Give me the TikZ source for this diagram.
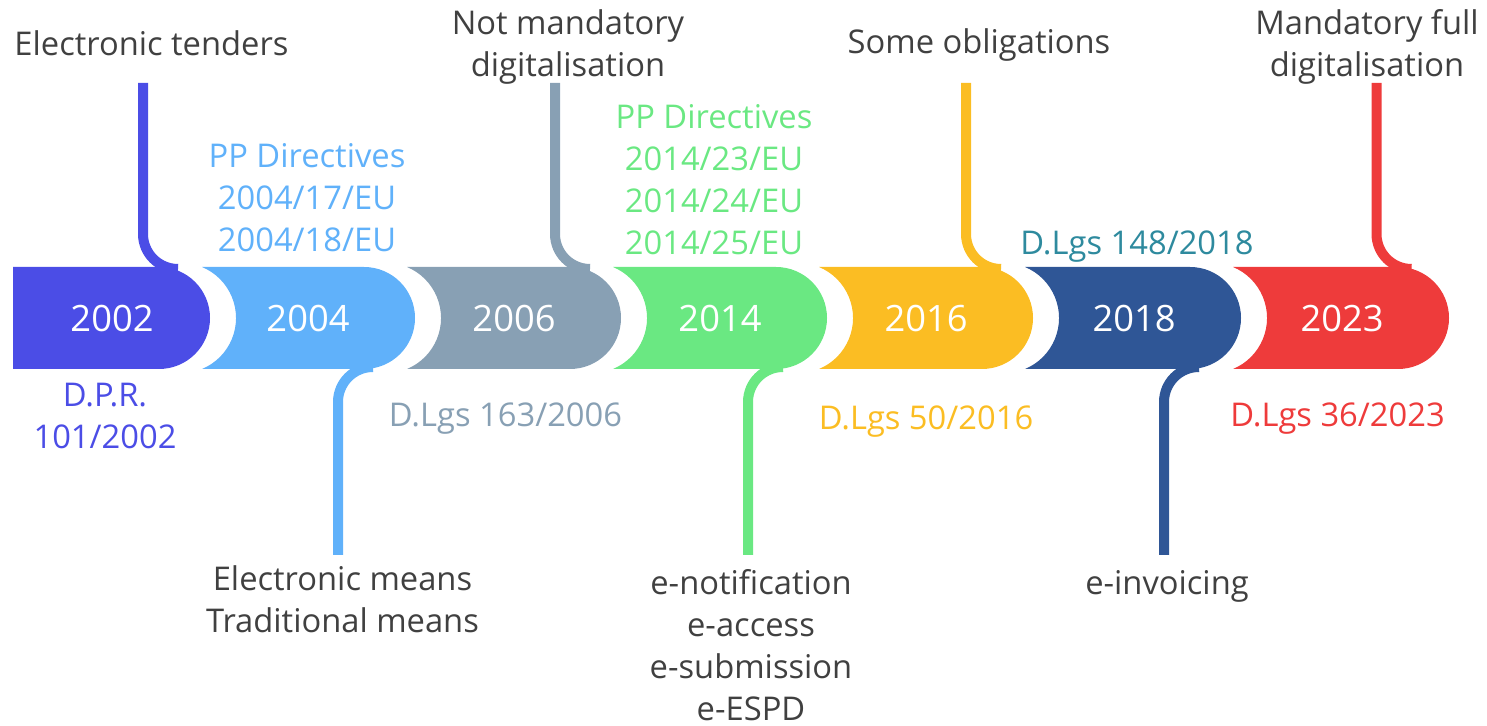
\documentclass[tikz,border=0pt]{standalone}
\usepackage{fontspec}
\setmainfont{Open Sans}
\definecolor{c2002}{HTML}{4B4DE6}
\definecolor{c2004}{HTML}{60B1FA}
\definecolor{c2006}{HTML}{88A0B4}
\definecolor{c2014}{HTML}{6AE882}
\definecolor{c2016}{HTML}{FBBD23}
\definecolor{c2018}{HTML}{2F5696}
\definecolor{c2023}{HTML}{EE3B3B}
\definecolor{dlgs2018}{HTML}{2E8A9E}
\definecolor{txt}{HTML}{404040}
\begin{document}
\begin{tikzpicture}[x=1pt, y=1pt,
  lbl/.style = {font=\fontsize{32.7}{42}\selectfont, align=center, anchor=base, inner sep=0pt, text=txt},
  year/.style = {font=\fontsize{36.3}{42}\selectfont, text=white, inner sep=0pt},
  stem/.style = {line width=10pt}]
\useasboundingbox (0,0) rectangle (1487,725);
% band segments
\fill[c2002] (13,458) -- (159,458) arc[start angle=90, end angle=-90, radius=51] -- (13,356) -- cycle;
\fill[c2004] (202,458) -- (364,458) arc[start angle=90, end angle=-90, radius=51] -- (202,356) arc[start angle=-67.4, end angle=67.4, radius=55.25] -- cycle;
\fill[c2006] (407,458) -- (570,458) arc[start angle=90, end angle=-90, radius=51] -- (407,356) arc[start angle=-67.4, end angle=67.4, radius=55.25] -- cycle;
\fill[c2014] (613,458) -- (776,458) arc[start angle=90, end angle=-90, radius=51] -- (613,356) arc[start angle=-67.4, end angle=67.4, radius=55.25] -- cycle;
\fill[c2016] (819,458) -- (982,458) arc[start angle=90, end angle=-90, radius=51] -- (819,356) arc[start angle=-67.4, end angle=67.4, radius=55.25] -- cycle;
\fill[c2018] (1025,458) -- (1190,458) arc[start angle=90, end angle=-90, radius=51] -- (1025,356) arc[start angle=-67.4, end angle=67.4, radius=55.25] -- cycle;
\fill[c2023] (1233,458) -- (1398,458) arc[start angle=90, end angle=-90, radius=51] -- (1233,356) arc[start angle=-67.4, end angle=67.4, radius=55.25] -- cycle;
% years
\node[year] (y2002) at (112,406) {2002};
\node[year] (y2004) at (308,406) {2004};
\node[year] (y2006) at (514,406) {2006};
\node[year] (y2014) at (720,406) {2014};
\node[year] (y2016) at (926,406) {2016};
\node[year] (y2018) at (1134,406) {2018};
\node[year] (y2023) at (1342,406) {2023};
% stem ends
\coordinate (s2002) at (143,642);
\coordinate (s2004) at (338,170);
\coordinate (s2006) at (555,642);
\coordinate (s2014) at (748,170);
\coordinate (s2016) at (966,642);
\coordinate (s2018) at (1164,170);
\coordinate (s2023) at (1376.5,642);
% stems
\draw[stem, c2002] (s2002) -- ++(0,-151) arc[start angle=180, end angle=270, radius=35];
\draw[stem, c2006] (s2006) -- ++(0,-151) arc[start angle=180, end angle=270, radius=35];
\draw[stem, c2016] (s2016) -- ++(0,-151) arc[start angle=180, end angle=270, radius=35];
\draw[stem, c2023] (s2023) -- ++(0,-151) arc[start angle=180, end angle=270, radius=35];
\draw[stem, c2004] (s2004) -- ++(0,153) arc[start angle=180, end angle=90, radius=35];
\draw[stem, c2014] (s2014) -- ++(0,153) arc[start angle=180, end angle=90, radius=35];
\draw[stem, c2018] (s2018) -- ++(0,153) arc[start angle=180, end angle=90, radius=35];
% labels above (base = last line)
\node[lbl] (t2002) at (151.5,669) {Electronic tenders};
\node[lbl, text=c2004] (d2004) at (307,473) {PP Directives\\2004/17/EU\\2004/18/EU};
\node[lbl] (t2006) at (568,648) {Not mandatory\\digitalisation};
\node[lbl, text=c2014] (d2014) at (714,470) {PP Directives\\2014/23/EU\\2014/24/EU\\2014/25/EU};
\node[lbl] (t2016) at (979,671) {Some obligations};
\node[lbl, text=dlgs2018] (d2018) at (1137,470) {D.Lgs 148/2018};
\node[lbl] (t2023) at (1367,648) {Mandatory full\\digitalisation};
% labels below
\node[lbl, text=c2002] (d2002) at (105,276) {D.P.R.\\101/2002};
\node[lbl] (b2004) at (342.5,92) {Electronic means\\Traditional means};
\node[lbl, text=c2006] (d2006) at (505.5,298) {D.Lgs 163/2006};
\node[lbl] (b2014) at (751,5) {e-notification\\e-access\\e-submission\\e-ESPD};
\node[lbl, text=c2016] (d2016) at (926,295) {D.Lgs 50/2016};
\node[lbl] (b2018) at (1167,130) {e-invoicing};
\node[lbl, text=c2023] (d2023) at (1337.5,298) {D.Lgs 36/2023};
\end{tikzpicture}
\end{document}
